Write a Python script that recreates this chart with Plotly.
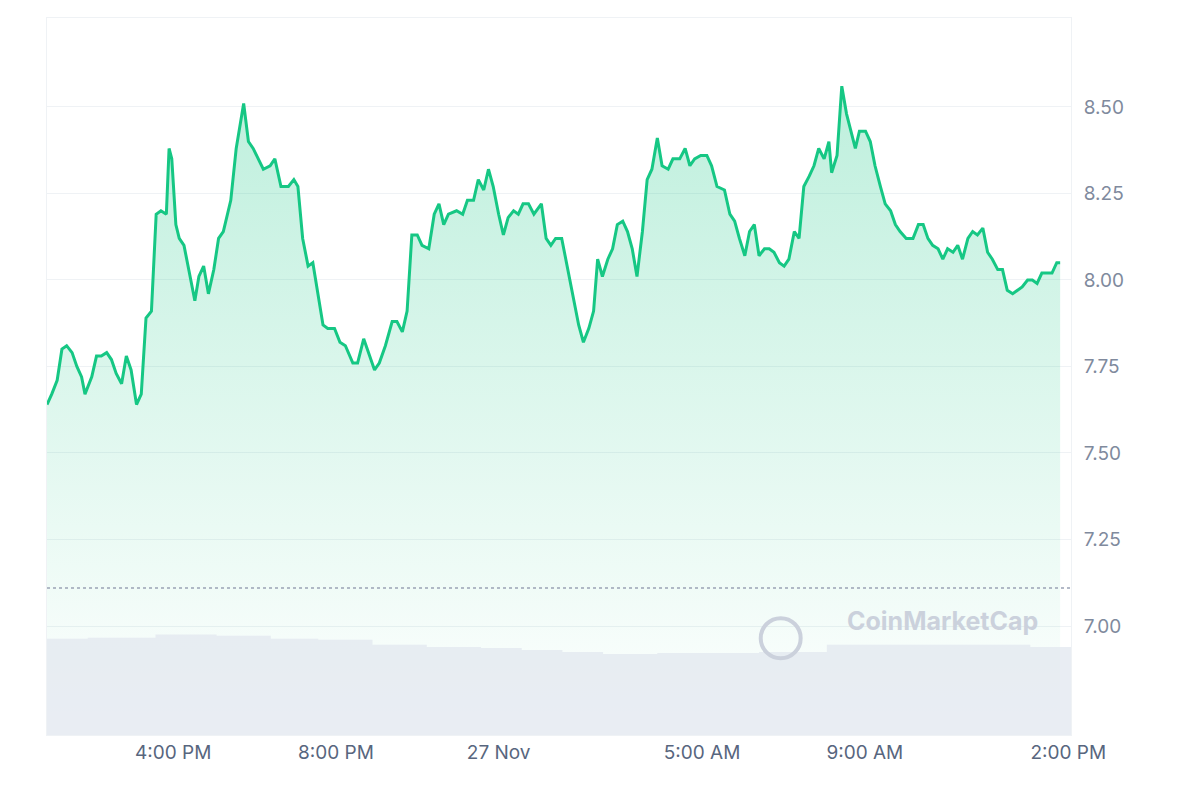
import pandas as pd
import plotly.graph_objects as go

start = pd.Timestamp("2023-11-26 12:54")

# minutes since start, and price
minutes = [0, 7, 15, 22, 29, 37, 44, 51, 56, 66, 73, 80, 88, 95, 102, 110, 117, 124, 132, 139,
           146, 154, 161, 168, 176, 180, 184, 190, 195, 202, 209, 218, 224, 231, 238, 246, 253, 260, 271, 279,
           290, 297, 304, 312, 319, 329, 336, 345, 356, 364, 370, 377, 385, 392, 399, 407, 414, 424, 432, 440,
           451, 458, 467, 476, 483, 490, 499, 509, 516, 524, 531, 538, 546, 553, 563, 571, 578, 585, 592, 604,
           613, 620, 629, 636, 644, 651, 658, 666, 673, 680, 688, 695, 702, 710, 718, 729, 736, 743, 750, 759,
           768, 777, 784, 791, 799, 806, 812, 819, 827, 834, 841, 849, 856, 863, 870, 878, 885, 892, 900, 907,
           916, 923, 933, 941, 948, 955, 964, 973, 980, 988, 999, 1007, 1014, 1021, 1029, 1036, 1043, 1050, 1058, 1065,
           1072, 1080, 1087, 1094, 1102, 1109, 1116, 1124, 1131, 1138, 1146, 1153, 1157, 1165, 1172, 1179, 1187, 1192, 1198, 1207,
           1214, 1221, 1229, 1236, 1244, 1251, 1258, 1267, 1277, 1285, 1292, 1299, 1306, 1314, 1321, 1328, 1336, 1343, 1350, 1358,
           1365, 1372, 1380, 1387, 1394, 1402, 1409, 1416, 1424, 1431, 1438, 1446, 1453, 1460, 1467, 1475, 1482, 1489, 1494]
price = [7.64, 7.67, 7.71, 7.80, 7.81, 7.79, 7.75, 7.72, 7.67, 7.72, 7.78, 7.78, 7.79, 7.77, 7.73, 7.70, 7.78, 7.74, 7.64, 7.67,
         7.89, 7.91, 8.19, 8.20, 8.19, 8.38, 8.35, 8.16, 8.12, 8.10, 8.03, 7.94, 8.01, 8.04, 7.96, 8.03, 8.12, 8.14, 8.23, 8.38,
         8.51, 8.40, 8.38, 8.35, 8.32, 8.33, 8.35, 8.27, 8.27, 8.29, 8.27, 8.12, 8.04, 8.05, 7.97, 7.87, 7.86, 7.86, 7.82, 7.81,
         7.76, 7.76, 7.83, 7.78, 7.74, 7.76, 7.81, 7.88, 7.88, 7.85, 7.91, 8.13, 8.13, 8.10, 8.09, 8.19, 8.22, 8.16, 8.19, 8.20,
         8.19, 8.23, 8.23, 8.29, 8.26, 8.32, 8.27, 8.19, 8.13, 8.18, 8.20, 8.19, 8.22, 8.22, 8.19, 8.22, 8.12, 8.10, 8.12, 8.12,
         8.03, 7.94, 7.87, 7.82, 7.86, 7.91, 8.06, 8.01, 8.06, 8.09, 8.16, 8.17, 8.14, 8.09, 8.01, 8.14, 8.29, 8.32, 8.41, 8.33,
         8.32, 8.35, 8.35, 8.38, 8.33, 8.35, 8.36, 8.36, 8.33, 8.27, 8.26, 8.19, 8.17, 8.12, 8.07, 8.14, 8.16, 8.07, 8.09, 8.09,
         8.08, 8.05, 8.04, 8.06, 8.14, 8.12, 8.27, 8.30, 8.33, 8.38, 8.35, 8.40, 8.31, 8.36, 8.56, 8.48, 8.42, 8.38, 8.43, 8.43,
         8.40, 8.33, 8.27, 8.22, 8.20, 8.16, 8.14, 8.12, 8.12, 8.16, 8.16, 8.12, 8.10, 8.09, 8.06, 8.09, 8.08, 8.10, 8.06, 8.12,
         8.14, 8.13, 8.15, 8.08, 8.06, 8.03, 8.03, 7.97, 7.96, 7.97, 7.98, 8.00, 8.00, 7.99, 8.02, 8.02, 8.02, 8.05, 8.05]

vol_minutes = [0, 60, 120, 160, 250, 330, 400, 480, 560, 640, 700, 760, 820, 900, 960, 1050, 1150, 1250, 1350, 1450, 1510]
volume = [0.94, 0.95, 0.95, 0.98, 0.97, 0.94, 0.93, 0.88, 0.86, 0.85, 0.83, 0.81, 0.79, 0.80, 0.80, 0.81, 0.88, 0.88, 0.88, 0.86, 0.83]

open_price = 7.11
tick_times = ["2023-11-26 16:00", "2023-11-26 20:00", "2023-11-27 00:00",
              "2023-11-27 05:00", "2023-11-27 09:00", "2023-11-27 14:00"]
tick_text = ["4:00 PM", "8:00 PM", "27 Nov", "5:00 AM", "9:00 AM", "2:00 PM"]
y_ticks = [7.00, 7.25, 7.50, 7.75, 8.00, 8.25, 8.50]

t = [start + pd.Timedelta(minutes=m) for m in minutes]
tv = [start + pd.Timedelta(minutes=m) for m in vol_minutes]
green = "#16c784"

fig = go.Figure()
fig.add_trace(go.Scatter(x=tv, y=volume, yaxis="y2", mode="lines", line=dict(width=0, shape="hv"),
                         fill="tozeroy", fillcolor="rgba(226,231,239,0.75)", hoverinfo="skip"))
fig.add_trace(go.Scatter(x=t, y=[6.685] * len(t), mode="lines", line=dict(width=0), hoverinfo="skip"))
fig.add_trace(go.Scatter(x=t, y=price, mode="lines", line=dict(color=green, width=3),
                         fill="tonexty",
                         fillgradient=dict(type="vertical",
                                           colorscale=[[0, "rgba(22,199,132,0)"], [1, "rgba(22,199,132,0.28)"]])))

fig.add_hline(y=open_price, line=dict(color="#9aa3b5", width=1.5, dash="dot"))

# watermark
fig.add_annotation(xref="paper", yref="paper", x=0.97, y=0.135, text="<b>CoinMarketCap</b>", showarrow=False,
                   xanchor="right", font=dict(family="Inter, Roboto", size=25, color="#cbd1dc"))
fig.add_shape(type="circle", xref="paper", yref="paper", x0=0.697, x1=0.736, y0=0.107, y1=0.163,
              line=dict(color="#cbd1dc", width=4))

fig.update_layout(
    width=1200, height=800, showlegend=False, plot_bgcolor="white", paper_bgcolor="white",
    margin=dict(l=39, r=137, t=10, b=73),
    xaxis=dict(range=[start, start + pd.Timedelta(minutes=1510)], tickvals=tick_times, ticktext=tick_text,
               showgrid=False, showline=True, linecolor="#eff2f5", mirror=True, zeroline=False,
               tickfont=dict(family="Inter, Roboto", size=19, color="#58667e")),
    yaxis=dict(range=[6.685, 8.757], side="right", tickvals=y_ticks, ticktext=[f"{v:.2f}" for v in y_ticks],
               showgrid=True, gridcolor="#eff2f5", showline=True, linecolor="#eff2f5", mirror=True, zeroline=False,
               tickfont=dict(family="Inter, Roboto", size=19, color="#808a9d"), ticklabelstandoff=8),
    yaxis2=dict(range=[0, 7], overlaying="y", visible=False),
)

fig.write_html("out.html")
